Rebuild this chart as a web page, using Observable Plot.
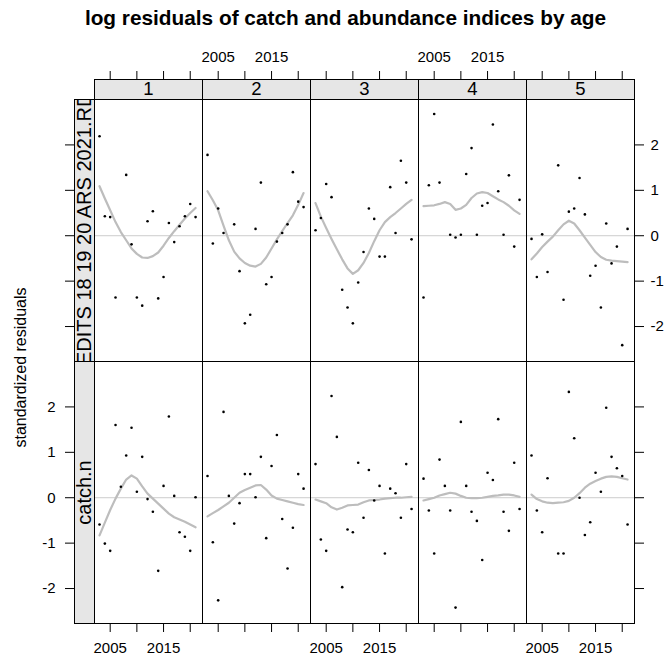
<!DOCTYPE html>
<html>
<head>
<meta charset="utf-8">
<script src="https://cdn.jsdelivr.net/npm/d3@7"></script>
<script src="https://cdn.jsdelivr.net/npm/@observablehq/plot@0.6"></script>
<style>
  body { margin: 0; background: #fff; font-family: "Liberation Sans", Arial, sans-serif; }
  #title { width: 639px; padding-left: 26px; height: 40px; line-height: 36px; text-align: center;
           font-weight: bold; font-size: 20.8px; color: #000; white-space: nowrap; }
  #chart svg { display: block; }
</style>
</head>
<body>
<div id="title">log residuals of catch and abundance indices by age</div>
<div id="chart"></div>
<script>
// ---- data ----
const years = [2003, 2004, 2005, 2006, 2007, 2008, 2009, 2010, 2011, 2012, 2013, 2014, 2015, 2016, 2017, 2018, 2019, 2020, 2021];
const ages = [1, 2, 3, 4, 5];
const indexKeys = ["survey", "catch.n"];
const indexLabels = ["MEDITS 18 19 20 ARS 2021.RDS", "catch.n"];

// survey (top row) residuals, by age
const survey1 = [2.19, 0.43, 0.41, -1.36, null, 1.34, -0.19, -1.36, -1.54, 0.32, 0.54, -1.38, -0.91, 0.28, -0.14, 0.21, 0.43, 0.70, 0.41];
const survey2 = [1.78, -0.17, 0.60, 0.06, null, 0.25, -0.78, -1.93, -1.74, 0.15, 1.17, -1.07, -0.91, -0.13, 0.06, 0.25, 1.40, 0.75, 0.63];
const survey3 = [0.12, 0.39, 1.14, 0.85, null, -1.19, -1.58, -1.93, -1.03, -0.36, 0.60, 0.37, -0.46, -0.46, 1.07, 0.06, 1.65, 1.17, -0.08];
const survey4 = [-1.36, 1.11, 2.68, 1.17, null, 0.02, -0.04, 0.02, 1.36, 1.93, 0.02, 0.66, 0.72, 2.45, 0.98, 0.02, 1.33, -0.24, 0.79];
const survey5 = [-0.07, -0.91, 0.03, -0.80, null, 1.55, -1.41, 0.53, 0.60, 1.27, 0.47, -0.88, -0.66, -1.58, 0.27, -0.61, -0.24, -2.41, 0.15];

// catch.n (bottom row) residuals, by age
const catch1 = [-0.59, -1.01, -1.17, 1.60, 0.24, 0.93, 1.54, 0.13, 0.90, -0.03, -0.31, -1.61, 0.26, 1.79, 0.04, -0.76, -0.86, -1.17, 0.01];
const catch2 = [0.48, -0.98, -2.26, 1.89, 0.04, -0.57, -0.12, 0.52, 0.52, 0.01, 0.90, -0.89, 0.70, 1.38, -0.47, -1.56, -0.66, 0.52, 0.20];
const catch3 = [0.74, -0.92, -1.17, 2.24, 1.34, -1.97, -0.70, -0.76, 0.77, -0.44, 0.61, -0.06, 0.26, -1.23, 0.20, 0.10, -0.44, 0.74, -0.25];
const catch4 = [0.42, -0.28, -1.23, 0.84, 0.26, -0.28, -2.42, 1.67, 0.26, -0.31, -0.51, -1.37, 0.55, 0.39, 1.73, -0.31, -0.73, 0.77, -0.25];
const catch5 = [0.93, -0.28, -0.76, 0.43, null, -1.23, -1.23, 2.33, 1.31, 0.00, -0.82, -0.54, 0.55, 0.13, 1.98, 0.90, 0.65, 0.48, -0.59];

// smoother values
const surveyFit1 = [1.09, 0.82, 0.56, 0.30, 0.08, -0.10, -0.28, -0.40, -0.48, -0.49, -0.45, -0.37, -0.22, -0.05, 0.10, 0.24, 0.38, 0.50, 0.61];
const surveyFit2 = [0.98, 0.78, 0.56, 0.22, -0.10, -0.35, -0.50, -0.60, -0.66, -0.68, -0.62, -0.48, -0.28, -0.08, 0.10, 0.28, 0.45, 0.68, 0.94];
const surveyFit3 = [0.72, 0.42, 0.17, -0.07, -0.30, -0.52, -0.72, -0.84, -0.76, -0.60, -0.38, -0.12, 0.12, 0.30, 0.41, 0.50, 0.60, 0.70, 0.79];
const surveyFit4 = [0.65, 0.66, 0.67, 0.70, 0.74, 0.70, 0.57, 0.60, 0.68, 0.83, 0.93, 0.96, 0.94, 0.87, 0.80, 0.74, 0.66, 0.56, 0.48];
const surveyFit5 = [-0.52, -0.39, -0.25, -0.13, -0.02, 0.12, 0.25, 0.33, 0.27, 0.12, -0.04, -0.20, -0.36, -0.47, -0.53, -0.55, -0.56, -0.57, -0.58];
const catchFit1 = [-0.83, -0.55, -0.27, -0.02, 0.20, 0.40, 0.49, 0.42, 0.25, 0.09, -0.02, -0.13, -0.24, -0.35, -0.43, -0.48, -0.53, -0.59, -0.65];
const catchFit2 = [-0.41, -0.34, -0.27, -0.19, -0.11, 0.00, 0.11, 0.17, 0.22, 0.27, 0.28, 0.18, 0.05, -0.02, -0.05, -0.08, -0.11, -0.14, -0.16];
const catchFit3 = [-0.04, -0.08, -0.12, -0.21, -0.26, -0.22, -0.17, -0.16, -0.15, -0.10, -0.06, -0.05, -0.04, -0.02, -0.01, 0.00, 0.00, 0.01, 0.02];
const catchFit4 = [-0.06, -0.03, 0.00, 0.05, 0.08, 0.11, 0.09, 0.04, 0.00, -0.01, -0.01, 0.00, 0.02, 0.04, 0.05, 0.07, 0.07, 0.05, 0.02];
const catchFit5 = [0.07, -0.03, -0.08, -0.11, -0.12, -0.11, -0.10, -0.07, 0.00, 0.10, 0.22, 0.31, 0.37, 0.42, 0.46, 0.47, 0.46, 0.43, 0.40];

// axis ticks / labels
const xTicks = [2005, 2010, 2015, 2020];
const xTickLabels = [2005, 2015];
const topLabelAges = [2, 4];
const bottomLabelAges = [1, 3, 5];
const yTicks = [-2, -1, 0, 1, 2];
const yTitle = "standardized residuals";

// ---- build table ----
const residByIndex = { "survey": [survey1, survey2, survey3, survey4, survey5],
                       "catch.n": [catch1, catch2, catch3, catch4, catch5] };
const fitByIndex = { "survey": [surveyFit1, surveyFit2, surveyFit3, surveyFit4, surveyFit5],
                     "catch.n": [catchFit1, catchFit2, catchFit3, catchFit4, catchFit5] };
const rows = [];
for (const key of indexKeys) {
  ages.forEach((age, a) => {
    years.forEach((year, i) => {
      rows.push({ index: key, age, year, resid: residByIndex[key][a][i], fit: fitByIndex[key][a][i] });
    });
  });
}
const points = rows.filter(d => d.resid !== null);
const topLabels = topLabelAges.flatMap(age => xTickLabels.map(year => ({ age, year })));
const bottomLabels = bottomLabelAges.flatMap(age => xTickLabels.map(year => ({ age, year })));
const stripLeft = indexKeys.map((k, i) => ({ key: k, label: indexLabels[i] }));

const PANEL_W = 108, PANEL_H = 262, STRIP = 20, TICK = 9;

const chart = Plot.plot({
  width: 665,
  height: 619,
  marginTop: 59,
  marginBottom: 36,
  marginLeft: 94,
  marginRight: 31,
  style: { fontFamily: "'Liberation Sans', Arial, sans-serif", fontSize: "15px", color: "black", background: "white", overflow: "visible" },
  x: { domain: [2002.06, 2022.3] },
  y: { domain: [-2.77, 3.0] },
  fx: { domain: ages, padding: 0, axis: null },
  fy: { domain: indexKeys, padding: 0, axis: null },
  marks: [
    // strips
    Plot.frame({ facetAnchor: "top", fill: "#e6e6e6", stroke: "black", insetTop: -STRIP, insetBottom: PANEL_H, ariaDescription: "strip-top" }),
    Plot.frame({ facetAnchor: "left", fill: "#e6e6e6", stroke: "black", insetLeft: -STRIP, insetRight: PANEL_W, ariaDescription: "strip-left" }),
    Plot.text(ages, { fx: d => d, fy: () => "survey", text: d => String(d), frameAnchor: "top", dy: -STRIP / 2, lineAnchor: "middle", fontSize: 18.5 }),
    Plot.text(stripLeft, { fy: d => d.key, fx: () => 1, text: d => d.label, frameAnchor: "left", dx: -STRIP / 2, rotate: -90, lineAnchor: "middle", textAnchor: "middle", fontSize: 20, ariaDescription: "strip-left-text" }),
    // reference line at zero
    Plot.ruleY([0], { stroke: "#cccccc", strokeWidth: 1 }),
    // smoother
    Plot.line(rows, { x: "year", y: "fit", fx: "age", fy: "index", stroke: "#bdbdbd", strokeWidth: 2.2 }),
    // residuals
    Plot.dot(points, { x: "year", y: "resid", fx: "age", fy: "index", r: 1.3, fill: "black", stroke: null }),
    // panel borders
    Plot.frame({ stroke: "black" }),
    // axes ticks
    Plot.axisX({ anchor: "bottom", ticks: xTicks, tickSize: TICK, tickFormat: () => "", label: null }),
    Plot.axisX({ anchor: "top", ticks: xTicks, tickSize: TICK, tickFormat: () => "", label: null, dy: -STRIP }),
    Plot.axisY({ anchor: "left", ticks: yTicks, tickSize: TICK, tickFormat: () => "", label: null, dx: -STRIP }),
    Plot.axisY({ anchor: "right", ticks: yTicks, tickSize: TICK, tickFormat: () => "", label: null }),
    // tick labels (alternating, lattice style)
    Plot.text(bottomLabels, { x: "year", fx: "age", fy: () => "catch.n", text: d => String(d.year), frameAnchor: "bottom", dy: 25, lineAnchor: "middle" }),
    Plot.text(topLabels, { x: "year", fx: "age", fy: () => "survey", text: d => String(d.year), frameAnchor: "top", dy: -42, lineAnchor: "middle" }),
    Plot.text(yTicks, { y: d => d, fx: () => 1, fy: () => "catch.n", text: d => String(d), frameAnchor: "left", dx: -(STRIP + TICK + 10), textAnchor: "end", lineAnchor: "middle" }),
    Plot.text(yTicks, { y: d => d, fx: () => 5, fy: () => "survey", text: d => String(d), frameAnchor: "right", dx: TICK + 7, textAnchor: "start", lineAnchor: "middle" }),
    // y title
    Plot.text([yTitle], { fx: () => 1, fy: () => "catch.n", text: d => d, frameAnchor: "top-left", dx: -74, dy: 6, rotate: -90, fontSize: 16, lineAnchor: "middle", textAnchor: "middle" })
  ]
});
document.getElementById("chart").append(chart);

// clip the left strip labels to their strip boxes (as lattice does)
(function clipLeftStrips(svg) {
  const ns = "http://www.w3.org/2000/svg";
  const s = svg.getBoundingClientRect();
  let stripRects = [...svg.querySelectorAll('[aria-description="strip-left"] rect')].map(r => {
    const b = r.getBoundingClientRect();
    return { left: b.left - s.left, right: b.right - s.left, top: b.top - s.top, bottom: b.bottom - s.top };
  });
  if (!stripRects.length) {
    // fallback: derive from the facet scale
    const fy = svg.scale ? svg.scale("fy") : null;
    stripRects = indexKeys.map((k, i) => {
      const top = fy ? fy.apply(k) : 59 + i * PANEL_H;
      return { left: 94 - STRIP, right: 94, top, bottom: top + PANEL_H };
    });
  }
  let defs = svg.querySelector("defs");
  if (!defs) { defs = document.createElementNS(ns, "defs"); svg.insertBefore(defs, svg.firstChild); }
  const texts = [...svg.querySelectorAll('[aria-description="strip-left-text"] text')];
  texts.forEach((t, i) => {
    const b = t.getBoundingClientRect();
    const cx = (b.left + b.right) / 2 - s.left, cy = (b.top + b.bottom) / 2 - s.top;
    const r = stripRects.find(r => cy >= r.top && cy <= r.bottom && cx >= r.left - 4 && cx <= r.right + 4);
    if (!r) return;
    const parent = t.parentNode;
    // wrapper in root coordinates, holding the text with its parent's transform
    const M = parent.getCTM();
    const cp = document.createElementNS(ns, "clipPath");
    cp.setAttribute("id", "stripclip" + i);
    cp.setAttribute("clipPathUnits", "userSpaceOnUse");
    const rr = document.createElementNS(ns, "rect");
    rr.setAttribute("x", r.left);
    rr.setAttribute("y", r.top);
    rr.setAttribute("width", r.right - r.left);
    rr.setAttribute("height", r.bottom - r.top);
    cp.append(rr);
    defs.append(cp);
    const outer = document.createElementNS(ns, "g");
    outer.setAttribute("clip-path", `url(#stripclip${i})`);
    const inner = document.createElementNS(ns, "g");
    inner.setAttribute("transform", `matrix(${M.a},${M.b},${M.c},${M.d},${M.e},${M.f})`);
    // copy inherited text styling from the mark group
    const style = getComputedStyle(t);
    inner.setAttribute("font-size", style.fontSize);
    inner.setAttribute("font-family", style.fontFamily);
    inner.setAttribute("text-anchor", "middle");
    inner.setAttribute("fill", "black");
    outer.append(inner);
    svg.append(outer);
    inner.append(t);
  });
})(chart);
</script>
</body>
</html>
